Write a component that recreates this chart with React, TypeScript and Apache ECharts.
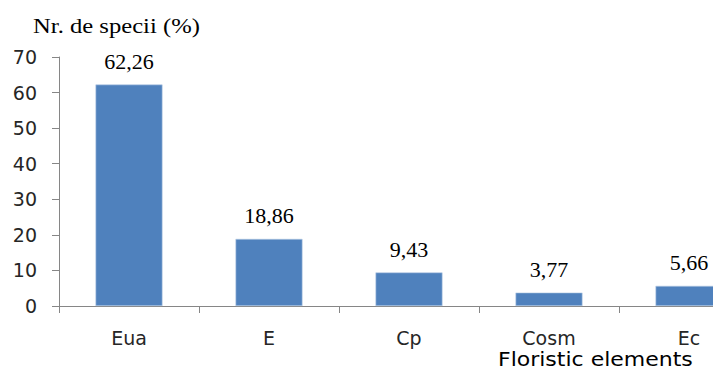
import React, { useEffect, useRef } from "react";
import * as echarts from "echarts";

// Share of species per floristic element (%)
const categories = ["Eua", "E", "Cp", "Cosm", "Ec"];
const shares = [62.26, 18.86, 9.43, 3.77, 5.66];
const yTicks = { min: 0, max: 70, interval: 10 };

const axisGray = "#868686";

export default function App() {
  const ref = useRef<HTMLDivElement>(null);

  useEffect(() => {
    if (!ref.current) return;
    const chart = echarts.init(ref.current, null, { renderer: "svg" });
    chart.setOption({
      animation: false,
      backgroundColor: "#ffffff",
      grid: { left: 59, right: 1, top: 57, bottom: 65, containLabel: false },
      xAxis: {
        type: "category",
        data: categories,
        axisLine: { lineStyle: { color: axisGray, width: 1 } },
        axisTick: { show: true, length: 7, lineStyle: { color: axisGray } },
        axisLabel: {
          margin: 22,
          fontFamily: "DejaVu Sans",
          fontSize: 19,
          color: "#262626",
        },
      },
      yAxis: {
        type: "value",
        min: yTicks.min,
        max: yTicks.max,
        interval: yTicks.interval,
        splitLine: { show: false },
        axisLine: { show: true, lineStyle: { color: axisGray, width: 1 } },
        axisTick: { show: true, length: 7, lineStyle: { color: axisGray } },
        axisLabel: {
          margin: 22,
          fontFamily: "DejaVu Sans",
          fontSize: 19,
          color: "#262626",
        },
      },
      series: [
        {
          type: "bar",
          data: shares,
          barWidth: 67,
          itemStyle: { color: "#4F81BD", borderColor: "#B9CDE5", borderWidth: 0.6 },
          label: {
            show: true,
            position: "top",
            distance: 12,
            fontFamily: "Liberation Serif",
            fontSize: 22,
            color: "#000",
            formatter: (p: any) => String(p.value).replace(".", ","),
          },
        },
      ],
      graphic: [
        {
          type: "text",
          x: 33,
          y: 14,
          scaleX: 1.12,
          style: {
            text: "Nr. de specii (%)",
            fontFamily: "Liberation Serif",
            fontSize: 22,
            fill: "#000",
          },
        },
        {
          type: "text",
          x: 498,
          y: 349,
          scaleX: 1.1,
          style: {
            text: "Floristic elements",
            fontFamily: "DejaVu Sans",
            fontSize: 20,
            fill: "#000",
          },
        },
      ],
    });
    return () => chart.dispose();
  }, []);

  return (
    <div
      style={{
        position: "fixed",
        left: 0,
        top: 0,
        width: 713,
        height: 371,
        overflow: "hidden",
        background: "#fff",
      }}
    >
      <div ref={ref} style={{ width: 760, height: 371 }} />
    </div>
  );
}
